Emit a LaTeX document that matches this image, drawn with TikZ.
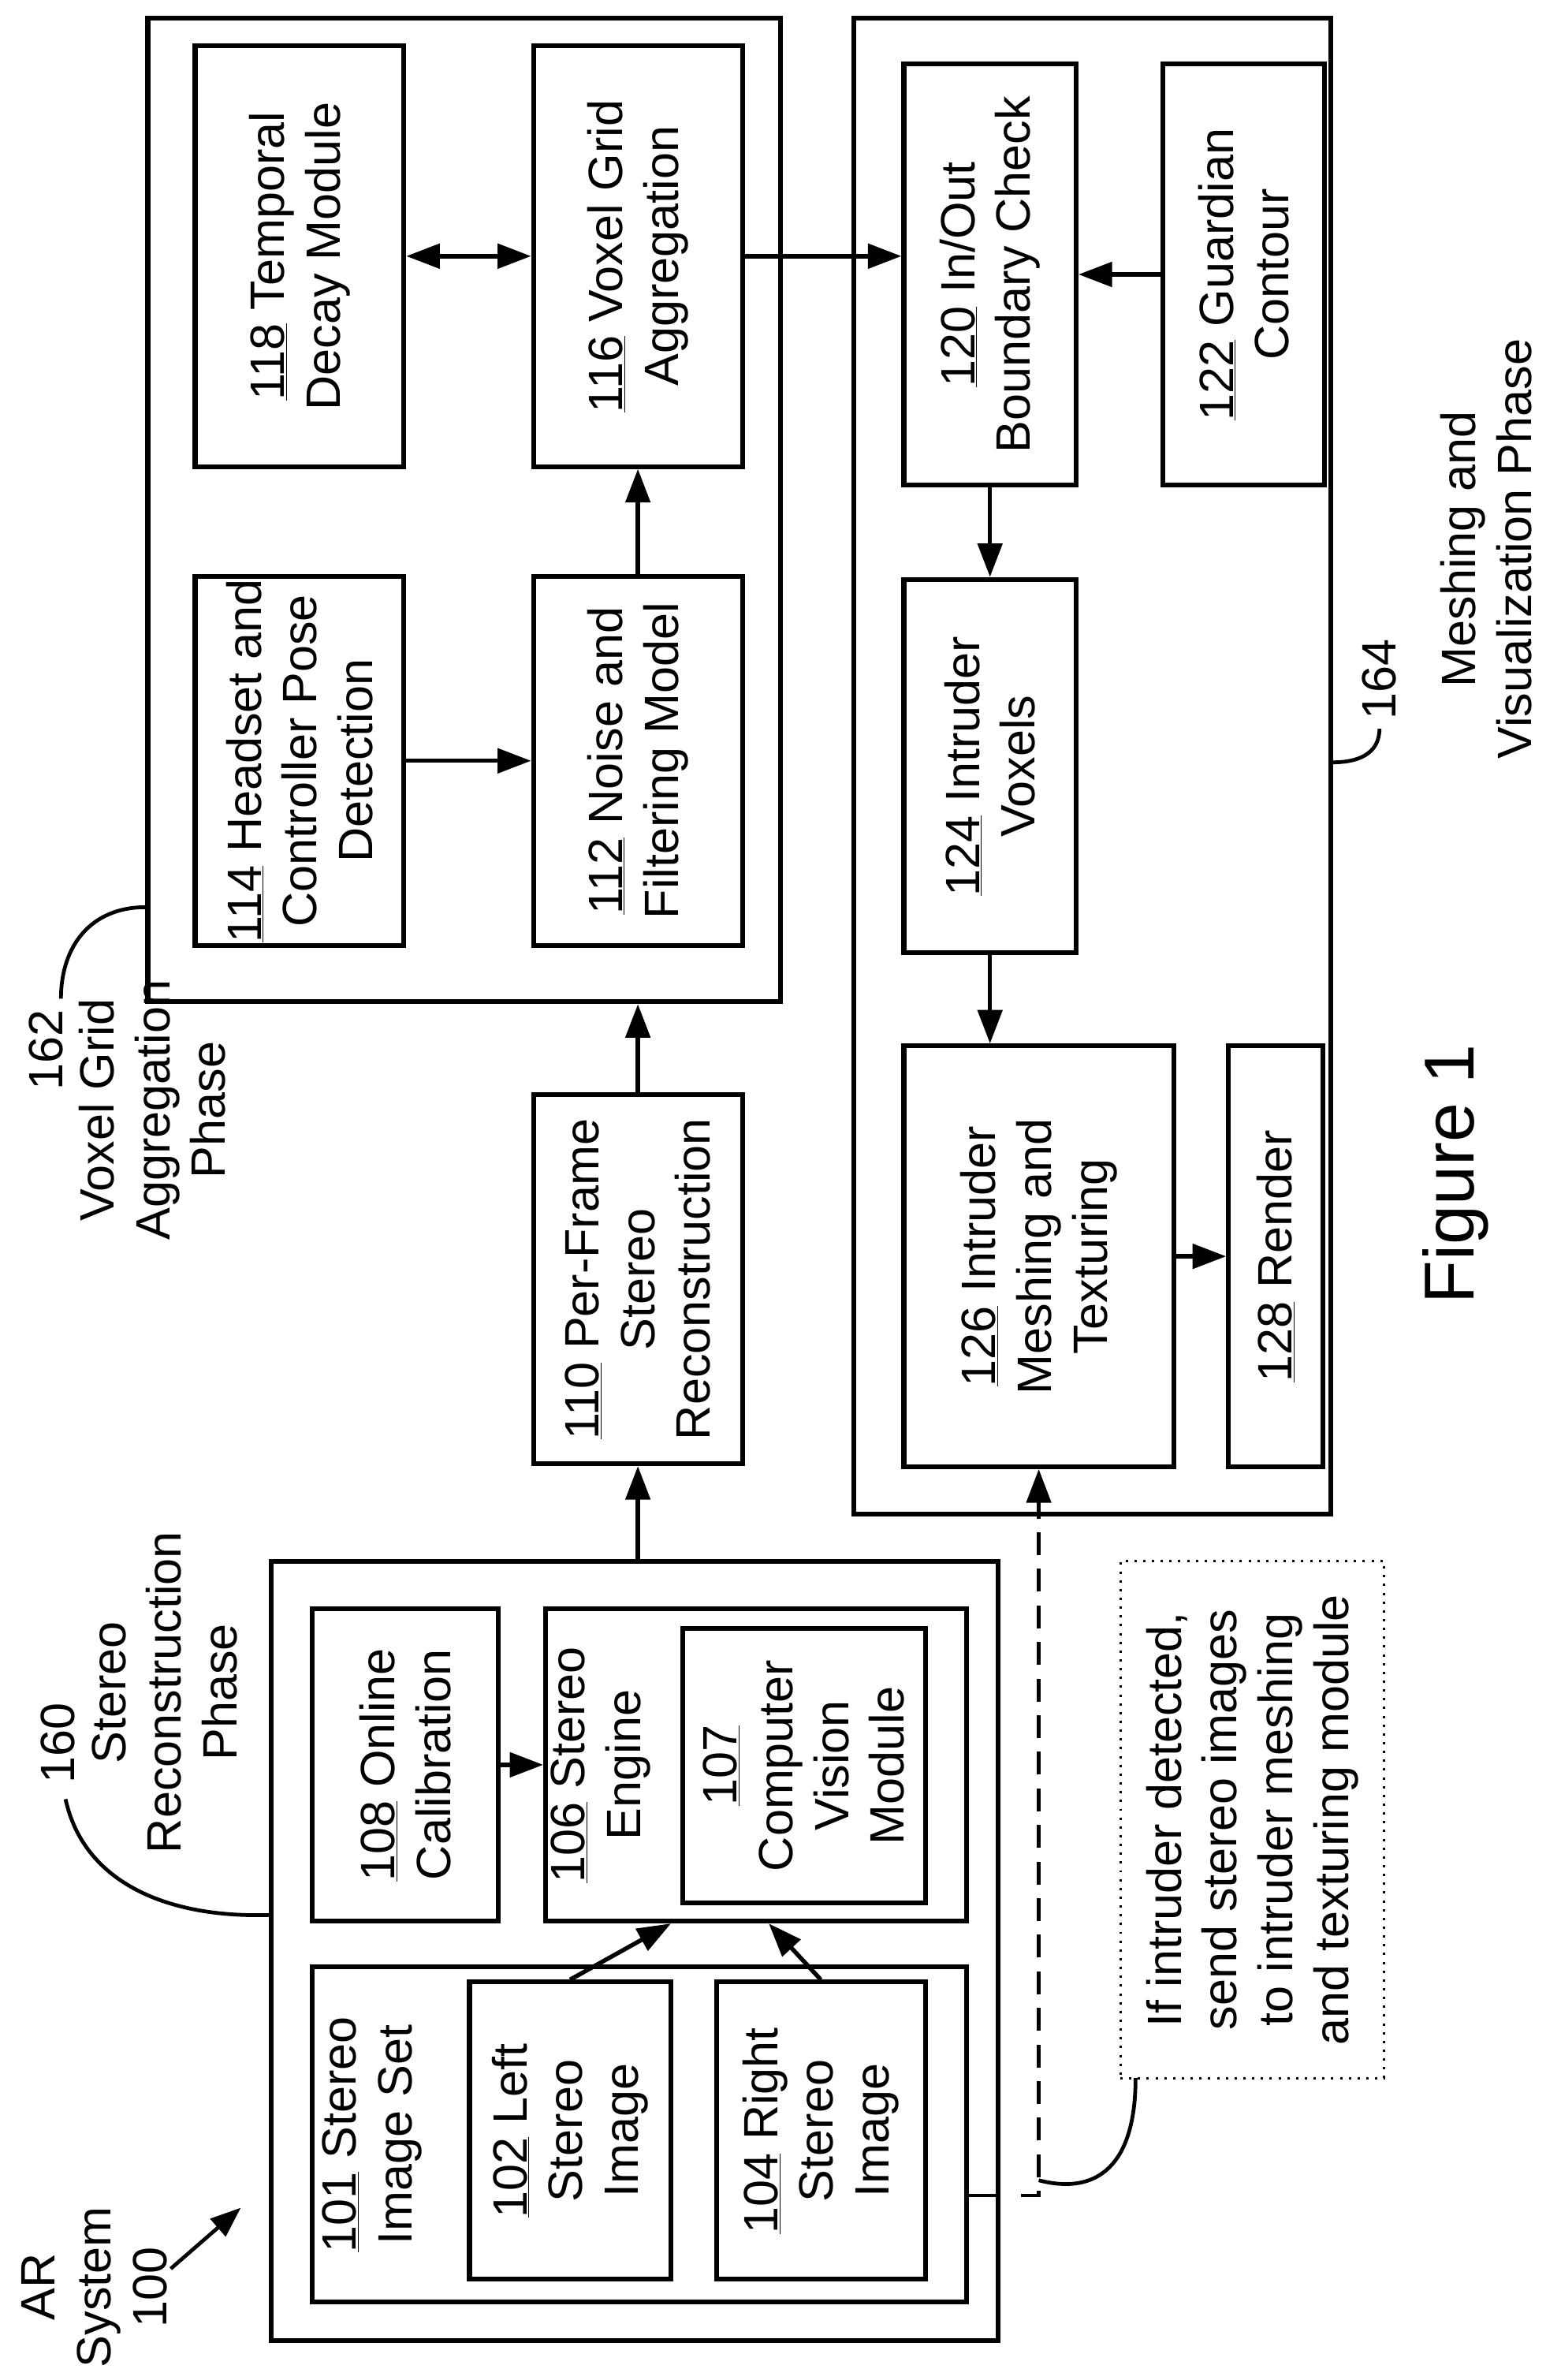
\documentclass[tikz,border=0pt]{standalone}
\usepackage{fontspec}
\setmainfont{Liberation Sans}
\usetikzlibrary{arrows.meta,calc}
\begin{document}
\begin{tikzpicture}[x=0.05cm,y=-0.05cm,
  box/.style 2 args={draw,line width=4.5pt,minimum width=#1*0.05cm,minimum height=#2*0.05cm,inner sep=0pt},
  txt/.style={rotate=90,align=center,font=\fontsize{45}{52}\selectfont,inner sep=0pt},
  arr/.style={line width=4pt,-{Triangle[length=1.1cm,width=0.8cm]}},
  lead/.style={line width=3.5pt}]
\useasboundingbox (0,0) rectangle (1024,1561);
% outer boxes
\node[box={415}{645}] (A) at (304.5,334.5) {};
\node[box={313}{981}] (B) at (716.5,502.5) {};
\node[box={477}{511}] (C) at (416.5,1279.5) {};
% phase A
\node[box={137}{276}] (b118) at (196.5,168) {};
\node[box={137}{276}] (b116) at (418.5,168) {};
\node[box={137}{242}] (b114) at (196.5,499) {};
\node[box={137}{242}] (b112) at (418.5,499) {};
\node[box={137}{242}] (b110) at (418.5,839) {};
\node[txt] at (b118) {\underline{118} Temporal\\Decay Module};
\node[txt] at (b116) {\underline{116} Voxel Grid\\Aggregation};
\node[txt] at (b114) {\underline{114} Headset and\\Controller Pose\\Detection};
\node[txt] at (b112) {\underline{112} Noise and\\Filtering Model};
\node[txt] at (b110) {\underline{110} Per-Frame\\Stereo\\Reconstruction};
% phase B
\node[box={113}{276}] (b120) at (649.5,180) {};
\node[box={106}{276}] (b122) at (816,180) {};
\node[box={113}{245}] (b124) at (649.5,502.5) {};
\node[box={177}{276}] (b126) at (681.5,824) {};
\node[box={62}{276}] (b128) at (837,824) {};
\node[txt] at (b120) {\underline{120} In/Out\\Boundary Check};
\node[txt] at (b122) {\underline{122} Guardian\\Contour};
\node[txt] at (b124) {\underline{124} Intruder\\Voxels};
\node[txt] at (b126) {\underline{126} Intruder\\Meshing and\\Texturing};
\node[txt] at (b128) {\underline{128} Render};
% phase C
\node[box={122}{205}] (b108) at (266,1157.5) {};
\node[box={276}{205}] (b106) at (496,1157.5) {};
\node[box={159}{180}] (b107) at (527.5,1158) {};
\node[box={429}{220}] (b101) at (419.5,1400) {};
\node[box={132}{195}] (b102) at (374,1397.5) {};
\node[box={137}{195}] (b104) at (538.5,1397.5) {};
\node[txt] at (b108) {\underline{108} Online\\Calibration};
\node[txt] at (394,1157.5) {\underline{106} Stereo\\Engine};
\node[txt] at (b107) {\underline{107}\\Computer\\Vision\\Module};
\node[txt] at (244,1400) {\underline{101} Stereo\\Image Set};
\node[txt] at (b102) {\underline{102} Left\\Stereo\\Image};
\node[txt] at (b104) {\underline{104} Right\\Stereo\\Image};
% note
\node[draw,line width=2.2pt,dash pattern=on 2.2pt off 6pt,minimum width=173*0.05cm,minimum height=339*0.05cm] (note) at (821.5,1193.5) {};
\node[txt] at (note) {If intruder detected,\\send stereo images\\to intruder meshing\\and texturing module};
% arrows
\draw[line width=4pt,{Triangle[length=1.1cm,width=0.8cm]}-{Triangle[length=1.1cm,width=0.8cm]}] (b118.east) -- (b116.west);
\draw[arr] (b116.east) -- (b116.east -| b120.west);
\draw[arr] (b122.west |- b120.west) -- (b120.east);
\draw[arr] (b120.south) -- (b124.north);
\draw[arr] (b124.south) -- (b124.south |- b126.north);
\draw[arr] (b126.east) -- (b128.west);
\draw[arr] (b114.east) -- (b112.west);
\draw[arr] (b112.north) -- (b116.south);
\draw[arr] (b110.north) -- (b112.north |- A.south);
\draw[arr] (b110.north |- C.north) -- (b110.south);
\draw[arr] (b108.east) -- (b108.east -| b106.west);
\draw[arr] (b102.north) -- ($(b106.south west)!0.3!(b106.south east)$);
\draw[arr] (b104.north) -- ($(b106.south west)!0.53!(b106.south east)$);
\coordinate (d0) at (b101.east |- 0,1440);
\coordinate (d1) at (C.east |- 0,1440);
\coordinate (d2) at (b126.south |- 0,1440);
\draw[line width=3.5pt] (d0) -- (d1);
\draw[line width=3.5pt,dash pattern=on 0.75cm off 0.45cm,-{Triangle[length=1.1cm,width=0.8cm]}] ($(d1)+(13,0)$) -- (d2) -- (b126.south);
% leaders and phase labels
\coordinate (n162) at (40,655);
\draw[lead] (A.west |- 0,595) .. controls (60,595) and (40,620) .. (n162);
\node[txt,anchor=east] at (30,662) {162};
\node[txt] at (100,728) {Voxel Grid\\Aggregation\\Phase};
\coordinate (n160) at (43,1180);
\draw[lead] (n160) .. controls (55,1235) and (110,1258) .. (C.west |- 0,1256);
\node[txt,anchor=west] at (38,1170) {160};
\node[txt] at (108,1110) {Stereo\\Reconstruction\\Phase};
\coordinate (n164) at (905,478);
\draw[lead] (B.east |- 0,500) .. controls (890,500) and (905,495) .. (n164);
\node[txt,anchor=west] at (905,472) {164};
\node[txt] at (975,360) {Meshing and\\Visualization Phase};
\coordinate (nn) at (745,1363);
\draw[lead] (b126.south |- 0,1430) .. controls (720,1440) and (745,1420) .. (nn);
\node[txt] at (62,1500) {AR\\System\\100};
\coordinate (ar0) at (112,1488);
\draw[line width=3.5pt,-{Triangle[length=1cm,width=0.75cm]}] (ar0) -- (158,1448);
\node[rotate=90,font=\fontsize{66}{72}\selectfont,inner sep=0pt] (fig) at (955,770) {Figure 1};
\end{tikzpicture}
\end{document}
